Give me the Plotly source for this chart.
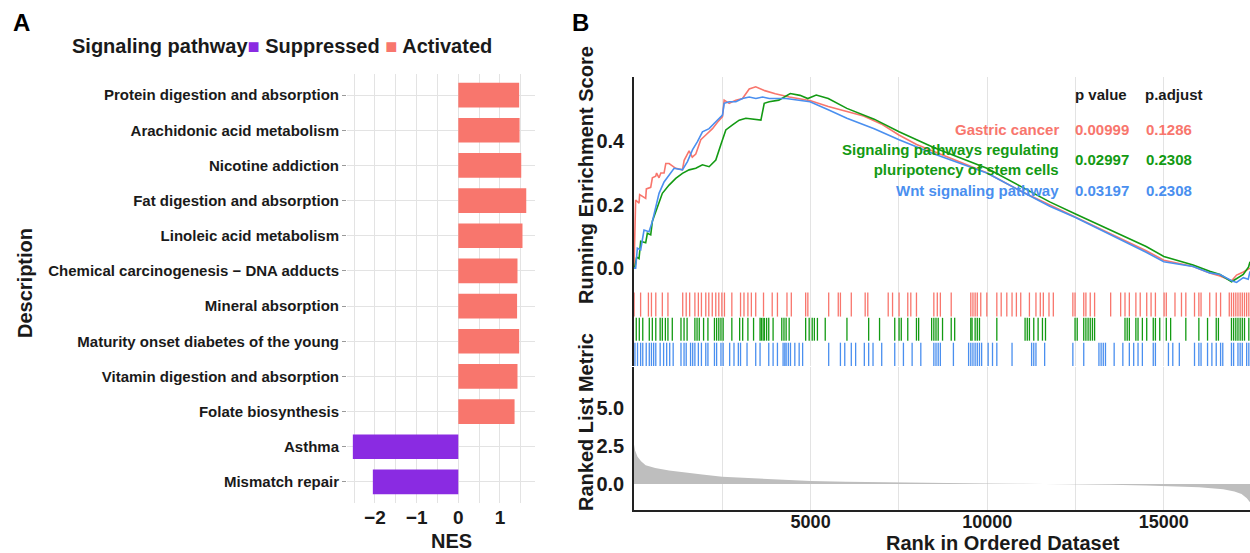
import plotly.graph_objects as go

W, H = 1250, 553
FONT = "Liberation Sans, Arial, sans-serif"
INK = "#1a1a1a"

# ---------------- Panel A data ----------------
pathways = [
    "Protein digestion and absorption",
    "Arachidonic acid metabolism",
    "Nicotine addiction",
    "Fat digestion and absorption",
    "Linoleic acid metabolism",
    "Chemical carcinogenesis − DNA adducts",
    "Mineral absorption",
    "Maturity onset diabetes of the young",
    "Vitamin digestion and absorption",
    "Folate biosynthesis",
    "Asthma",
    "Mismatch repair",
]
nes = [1.46, 1.47, 1.51, 1.63, 1.54, 1.42, 1.41, 1.46, 1.42, 1.35, -2.53, -2.05]
nes_ticks = [-2, -1, 0, 1]
legend_title = "Signaling pathway"
legend_labels = ["Suppressed", "Activated"]

# ---------------- Panel B data ----------------
gastric_rank = [0, 28, 47, 142, 160, 331, 350, 473, 520, 614, 640, 709, 760, 851, 900, 993,
                1182, 1371, 1420, 1560, 1650, 1749, 1891, 2033, 2222, 2363, 2505, 2553, 2694,
                2883, 3072, 3262, 3446, 3700, 4000, 4400, 5000, 5500, 6000, 6500, 7000, 7500,
                8000, 9000, 10000, 11000, 11770, 12500, 13500, 14500, 15000, 15830, 16300,
                16590, 16920, 17060, 17250, 17440]
gastric_es = [0.0, 0.147, 0.215, 0.205, 0.232, 0.22, 0.25, 0.255, 0.285, 0.29, 0.30, 0.285,
              0.30, 0.30, 0.33, 0.33, 0.315, 0.31, 0.34, 0.37, 0.35, 0.36, 0.405, 0.42, 0.44,
              0.46, 0.478, 0.53, 0.52, 0.53, 0.535, 0.565, 0.572, 0.56, 0.55, 0.54, 0.528,
              0.51, 0.495, 0.48, 0.455, 0.42, 0.39, 0.345, 0.30, 0.24, 0.199, 0.16, 0.108,
              0.055, 0.025, 0.005, -0.015, -0.025, -0.04, -0.022, -0.012, 0.0]

pluri_rank = [0, 19, 76, 142, 189, 331, 378, 473, 520, 662, 709, 803, 993, 1182, 1371, 1560,
              1749, 1938, 2127, 2316, 2458, 2600, 2789, 2978, 3167, 3451, 3593, 3687, 3829,
              4100, 4424, 4700, 4920, 5160, 5500, 6027, 6800, 7504, 8500, 9990, 11000, 11770,
              12500, 13500, 14500, 15000, 15830, 16300, 16590, 16920, 17100, 17250, 17400, 17440]
pluri_es = [0.0, 0.0, 0.035, 0.03, 0.085, 0.08, 0.11, 0.105, 0.148, 0.19, 0.204, 0.236, 0.262,
            0.283, 0.299, 0.31, 0.315, 0.326, 0.32, 0.341, 0.389, 0.436, 0.452, 0.467, 0.473,
            0.47, 0.467, 0.52, 0.525, 0.53, 0.551, 0.545, 0.535, 0.546, 0.535, 0.504, 0.47,
            0.43, 0.38, 0.315, 0.255, 0.209, 0.171, 0.12, 0.068, 0.037, 0.01, -0.01, -0.02,
            -0.043, -0.03, -0.02, 0.004, 0.02]

wnt_rank = [0, 47, 95, 189, 284, 425, 520, 633, 709, 851, 993, 1135, 1371, 1513, 1655, 1796,
            1938, 2127, 2316, 2505, 2553, 2694, 2883, 3072, 3262, 3451, 3640, 3829, 4305,
            4983, 5500, 6027, 6800, 7504, 8500, 9990, 11000, 11770, 12500, 13500, 14500,
            15000, 15830, 16300, 16590, 16920, 17060, 17250, 17390, 17440]
wnt_es = [0.0, 0.0, 0.063, 0.058, 0.12, 0.115, 0.147, 0.2, 0.236, 0.272, 0.294, 0.315, 0.31,
          0.336, 0.373, 0.399, 0.43, 0.44, 0.462, 0.483, 0.52, 0.525, 0.525, 0.535, 0.54,
          0.535, 0.54, 0.535, 0.535, 0.525, 0.50, 0.473, 0.44, 0.405, 0.36, 0.30, 0.24,
          0.195, 0.16, 0.106, 0.05, 0.02, 0.005, -0.015, -0.02, -0.04, -0.045, -0.03,
          -0.035, -0.01]

gastric_hits = [2, 187, 408, 494, 617, 802, 961, 1379, 1478, 1576, 1724, 1822, 1909, 2032, 2118,
                2216, 2315, 2401, 2487, 2561, 2770, 3016, 3114, 3225, 3323, 3446, 3667, 3913,
                4061, 4331, 4454, 4860, 4922, 5512, 5783, 5844, 6152, 6545, 6619, 7197, 7320,
                7505, 7751, 7837, 7997, 8489, 8587, 8674, 8981, 9535, 9596, 9658, 9719, 9817,
                9989, 10272, 10396, 10555, 10703, 10826, 10949, 11195, 11380, 11503, 11589,
                11749, 11872, 12425, 12487, 12733, 12794, 12917, 13040, 13495, 13778, 13901,
                14024, 14209, 14332, 14516, 14639, 14762, 15008, 15070, 15316, 15500, 15623,
                15869, 15992, 16054, 16300, 16484, 16607, 16853, 16915, 16976, 17038, 17099,
                17161, 17222, 17284, 17345, 17407]
pluri_hits = [64, 150, 248, 433, 519, 617, 740, 802, 888, 961, 1084, 1330, 1417, 1503, 1724,
              1785, 1847, 1970, 2093, 2278, 2339, 2401, 2462, 2524, 2770, 2991, 3077, 3225,
              3385, 3569, 3606, 3655, 3692, 3754, 3815, 3938, 4184, 4246, 4307, 4393, 4860,
              4959, 5045, 5107, 5193, 5414, 6029, 6644, 6952, 7382, 7505, 7567, 7751, 7997,
              8059, 8426, 8489, 8550, 8612, 8735, 8981, 9079, 9535, 9571, 9658, 9719, 9781,
              10272, 11072, 11134, 11195, 11318, 11441, 11564, 11650, 12487, 12548, 12733,
              12794, 12856, 12917, 12979, 13040, 13901, 13963, 14024, 14209, 14270, 14393,
              14516, 14701, 14762, 14885, 15070, 15193, 15623, 15992, 16238, 16484, 16546,
              16915, 16976, 17038, 17099, 17161, 17222, 17284, 17407]
wnt_hits = [27, 100, 187, 248, 346, 433, 494, 556, 617, 740, 838, 925, 1011, 1109, 1330, 1417,
            1478, 1601, 1662, 1724, 1822, 1909, 2032, 2093, 2278, 2339, 2462, 2524, 2709, 2831,
            2954, 3016, 3200, 3446, 3569, 3815, 3938, 4061, 4221, 4270, 4307, 4369, 4430, 4553,
            4676, 4774, 5512, 5844, 5967, 6152, 6275, 6521, 6644, 6767, 7013, 7382, 7628, 7874,
            8120, 8489, 8550, 8612, 8674, 9043, 9473, 9535, 9596, 9658, 9719, 9781, 9842,
            10027, 10150, 10272, 10703, 11257, 11318, 11380, 11626, 12425, 12733, 13163, 13225,
            13286, 13348, 13594, 13840, 14024, 14147, 14270, 14393, 14701, 14762, 15131, 15254,
            15439, 15869, 15992, 16054, 16238, 16361, 16484, 16607, 16669, 16915, 16976, 17099,
            17161, 17222, 17345, 17407]

metric_rank = [0, 30, 100, 200, 330, 600, 993, 1500, 1930, 2500, 3830, 5000, 6000, 7000, 8000,
               9000, 10000, 11000, 11800, 12500, 13500, 14500, 15260, 16000, 16680, 17000,
               17200, 17350, 17440]
metric_val = [2.6, 2.2, 1.8, 1.5, 1.23, 1.05, 0.89, 0.72, 0.62, 0.48, 0.32, 0.2, 0.15, 0.11,
              0.08, 0.05, 0.03, 0.01, 0.0, -0.02, -0.05, -0.1, -0.15, -0.22, -0.35, -0.5,
              -0.65, -0.94, -1.2]
rank_ticks = [5000, 10000, 15000]
rank_minor = [2500, 7500, 12500]

set_names = ["Gastric cancer", "Signaling pathways regulating<br>pluripotency of stem cells",
             "Wnt signaling pathway"]
set_pvalue = ["0.00999", "0.02997", "0.03197"]
set_padjust = ["0.1286", "0.2308", "0.2308"]
set_colors = ["#F8766D", "#139A13", "#4A8FEF"]

C_SUP, C_ACT = "#8A2BE2", "#F8766D"


def px(x):
    return x / W


def py(y):
    return 1 - y / H


def f(size, color=INK):
    return dict(family=FONT, size=size, color=color, weight=700)


fig = go.Figure()

# ----- Panel A bars -----
sup_y = [p for p, v in zip(pathways, nes) if v < 0]
sup_x = [v for v in nes if v < 0]
act_y = [p for p, v in zip(pathways, nes) if v >= 0]
act_x = [v for v in nes if v >= 0]
fig.add_trace(go.Bar(x=sup_x, y=sup_y, orientation="h", marker_color=C_SUP, width=0.7,
                     name=legend_labels[0], xaxis="x", yaxis="y", marker_line_width=0,
                     showlegend=False))
fig.add_trace(go.Bar(x=act_x, y=act_y, orientation="h", marker_color=C_ACT, width=0.7,
                     name=legend_labels[1], xaxis="x", yaxis="y", marker_line_width=0,
                     showlegend=False))

# ----- Panel B running ES -----
for r, e, c in zip([gastric_rank, pluri_rank, wnt_rank], [gastric_es, pluri_es, wnt_es], set_colors):
    fig.add_trace(go.Scatter(x=r, y=e, mode="lines", line=dict(color=c, width=1.6),
                             xaxis="x2", yaxis="y2", showlegend=False, hoverinfo="skip"))

# ----- gene hit ticks -----
rows = [(1.95, 2.9), (1.0, 1.9), (0.0, 0.92)]
for hits, c, (lo, hi) in zip([gastric_hits, pluri_hits, wnt_hits], set_colors, rows):
    xs, ys = [], []
    for h in hits:
        xs += [h, h, None]
        ys += [lo, hi, None]
    fig.add_trace(go.Scatter(x=xs, y=ys, mode="lines", line=dict(color=c, width=1.3),
                             xaxis="x3", yaxis="y3", showlegend=False, hoverinfo="skip"))

# ----- ranked list metric -----
fig.add_trace(go.Scatter(x=metric_rank, y=metric_val, mode="lines", fill="tozeroy",
                         fillcolor="#BEBEBE", line=dict(width=0, color="#BEBEBE"),
                         xaxis="x4", yaxis="y4", showlegend=False, hoverinfo="skip"))

GRID = "#E3E3E3"
BX = [px(634), 1.0]
XR = [0, 17440]


def rank_axis(anchor, labels):
    d = dict(domain=BX, range=XR, anchor=anchor, tickvals=rank_ticks, showgrid=True,
             gridcolor=GRID, minor=dict(tickvals=rank_minor, showgrid=True, gridcolor=GRID),
             zeroline=False, ticks="", showticklabels=labels, tickformat="d")
    if anchor != "y4":
        d["matches"] = "x4"
    return d


fig.update_layout(
    width=W, height=H, margin=dict(l=0, r=0, t=0, b=0),
    plot_bgcolor="white", paper_bgcolor="white", barmode="overlay", showlegend=False,
    font=dict(family=FONT, color=INK),
    xaxis=dict(domain=[px(347), px(535)], range=[-2.67, 1.84], tickvals=nes_ticks,
               showgrid=True, gridcolor=GRID, gridwidth=1, zeroline=False,
               minor=dict(dtick=0.5, tick0=0, showgrid=True, gridcolor=GRID, gridwidth=1),
               tickfont=f(19), ticks="", ticklabelstandoff=1, anchor="y"),
    yaxis=dict(domain=[py(503), py(74)], range=[-0.6, 11.6], categoryorder="array",
               categoryarray=pathways[::-1], showgrid=True, gridcolor=GRID, gridwidth=1,
               tickfont=f(15), ticks="outside", ticklen=4, tickcolor="#9a9a9a",
               anchor="x"),
    xaxis2=rank_axis("y2", False),
    yaxis2=dict(domain=[py(290), py(77)], range=[-0.069, 0.603], tickvals=[0, 0.2, 0.4],
                tickformat=".1f", showgrid=False, zeroline=False, showline=True,
                linecolor="#222", linewidth=1.5, tickfont=f(20), ticks="",
                ticklabelstandoff=4, anchor="x2"),
    xaxis3=rank_axis("y3", False),
    yaxis3=dict(domain=[py(366), py(290)], range=[0, 3], showticklabels=False, showgrid=False,
                zeroline=False, showline=True, linecolor="#222", linewidth=1.5, ticks="",
                anchor="x3"),
    xaxis4=dict(rank_axis("y4", True), showline=True, linecolor="#222", linewidth=1.5,
                tickfont=f(18), ticklabelstandoff=-5),
    yaxis4=dict(domain=[py(510), py(367)], range=[-1.71, 7.7], tickvals=[0, 2.5, 5.0],
                tickformat=".1f", showgrid=False, zeroline=False, showline=True,
                linecolor="#222", linewidth=1.5, tickfont=f(20), ticks="",
                ticklabelstandoff=4, anchor="x4"),
)

legend_text = (f"{legend_title}<span style='color:{C_SUP}'>■</span> {legend_labels[0]} "
               f"<span style='color:{C_ACT}'>■</span> {legend_labels[1]}")

ann = []
ann.append(dict(text=legend_text, x=px(70), y=py(46), xanchor="left", font=f(20)))
ann.append(dict(text="A", x=px(21), y=py(22), font=f(24, "#000")))
ann.append(dict(text="B", x=px(580), y=py(22), font=f(24, "#000")))
ann.append(dict(text="Description", x=px(25), y=py(283), textangle=-90, font=f(20)))
ann.append(dict(text="NES", x=px(452), y=py(541), font=f(20)))
ann.append(dict(text="Running Enrichment Score", x=px(586), y=py(175), textangle=-90, font=f(20)))
ann.append(dict(text="Ranked List Metric", x=px(586), y=py(422), textangle=-90, font=f(20)))
ann.append(dict(text="Rank in Ordered Dataset", x=px(1003), y=py(543), font=f(20)))
ann.append(dict(text="p value", x=px(1073), y=py(95), xanchor="left", font=f(15)))
ann.append(dict(text="p.adjust", x=px(1143), y=py(95), xanchor="left", font=f(15)))
row_y = [129, 159, 190]
for name, pv, pa, c, yy in zip(set_names, set_pvalue, set_padjust, set_colors, row_y):
    ann.append(dict(text=name, x=px(1061), y=py(yy), xanchor="right", align="right", font=f(15, c)))
    ann.append(dict(text=pv, x=px(1073), y=py(yy), xanchor="left", font=f(15, c)))
    ann.append(dict(text=pa, x=px(1144), y=py(yy), xanchor="left", font=f(15, c)))
for a in ann:
    a.update(xref="paper", yref="paper", showarrow=False)
    a.setdefault("xanchor", "center")
    a.setdefault("yanchor", "middle")
fig.update_layout(annotations=ann)

fig.write_html("out.html", config={"displayModeBar": False},
               post_script="document.body.style.margin='0';document.body.style.overflow='hidden';")
